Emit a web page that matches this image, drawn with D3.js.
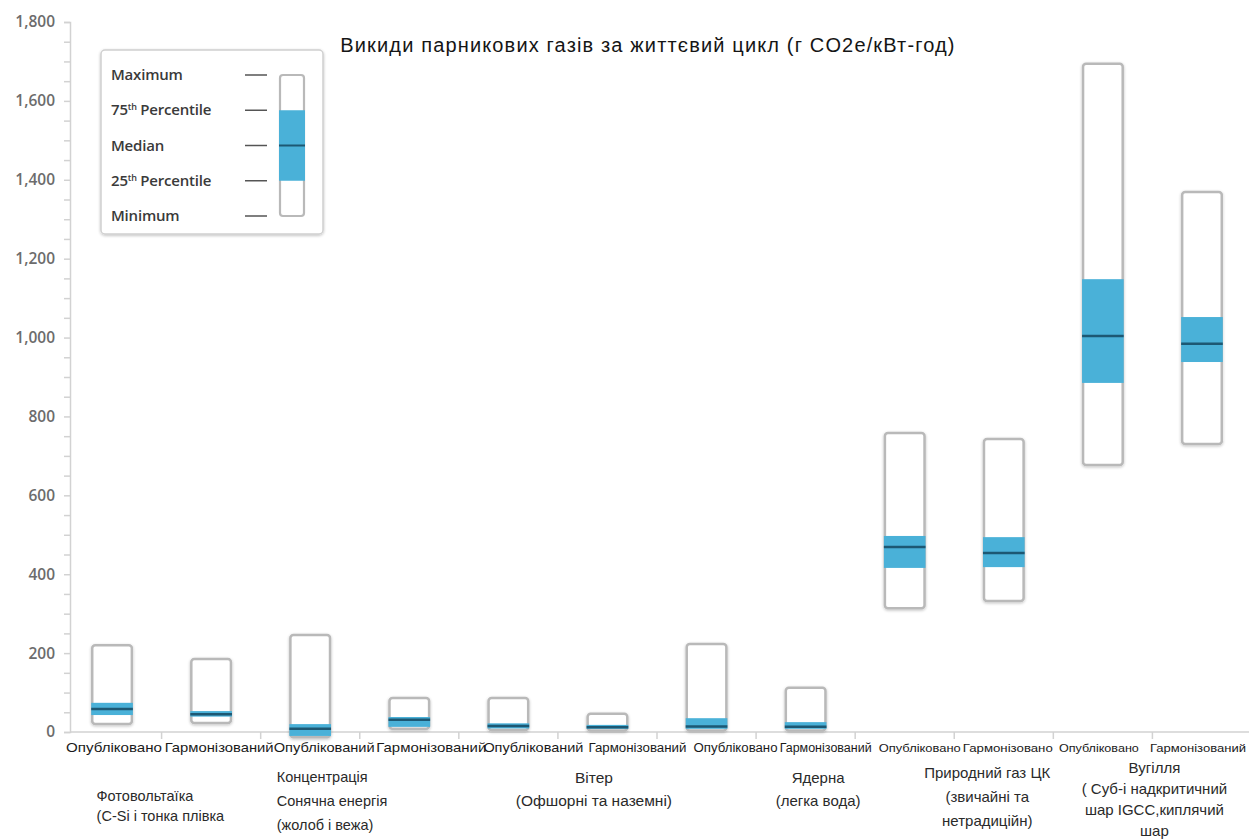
<!DOCTYPE html>
<html>
<head>
<meta charset="utf-8">
<script src="https://cdn.jsdelivr.net/npm/d3@7"></script>
<style>
  html, body { margin: 0; padding: 0; background: #fff; }
  svg { display: block; }
</style>
</head>
<body>
<svg id="chart" width="1249" height="839"></svg>
<script>
// Life-cycle greenhouse gas emissions by technology (g CO2e/kWh)
const categories = ["Опубліковано", "Гармонізований", "Опублікований", "Гармонізований",
  "Опублікований", "Гармонізований", "Опубліковано", "Гармонізований",
  "Опубліковано", "Гармонізовано", "Опубліковано", "Гармонізований"];

const maxVals    = [220, 185, 246,  86,  86,  46, 223, 112, 758, 743, 1694, 1369];
const q3Vals     = [ 74,  53,  20,  38,  22,  18,  35,  25, 497, 494, 1148, 1052];
const medianVals = [ 58,  45,   8,  31,  15,  12,  14,  13, 469, 454, 1004,  984];
const q1Vals     = [ 43,  39, -10,  13,   9,   8,   8,   8, 416, 418,  885,  938];
const minVals    = [ 20,  23, -13,   8,   5,   4,   4,   4, 314, 332,  677,  730];

const groupLines = [
  ["Фотовольтаїка", "(C-Si і тонка плівка"],
  ["Концентрація", "Сонячна енергія", "(жолоб і вежа)"],
  ["Вітер", "(Офшорні та наземні)"],
  ["Ядерна", "(легка вода)"],
  ["Природний газ ЦК", "(звичайні та", "нетрадиційн)"],
  ["Вугілля", "( Суб-і надкритичний", "шар IGCC,киплячий", "шар"]
];

const yTicks = [0, 200, 400, 600, 800, 1000, 1200, 1400, 1600, 1800];
const legendLabels = ["Maximum", "75th Percentile", "Median", "25th Percentile", "Minimum"];

const titleText = "Викиди парникових газів за життєвий цикл (г CO2e/кВт-год)";

// ---- layout ----
const svg = d3.select("#chart");
const W = 1249, H = 839;
const axisX = 70;
const BLUE = "#4ab1d8", MED = "#1d5873", OUTLINE = "#b9b9b9";

const rows = categories.map((c, i) => ({
  key: i, label: c,
  max: maxVals[i], q3: q3Vals[i], med: medianVals[i], q1: q1Vals[i], min: minVals[i]
}));

const y = d3.scaleLinear().domain([0, 1800]).range([732, 22]);
const x = d3.scaleBand().domain(rows.map(d => d.key))
  .range([62.5, 1251.5]).paddingInner(0.6).paddingOuter(0.3);

// soft shadow around the boxes
const defs = svg.append("defs");
const f = defs.append("filter").attr("id", "soft").attr("x", "-30%").attr("y", "-30%")
  .attr("width", "160%").attr("height", "160%");
f.append("feGaussianBlur").attr("in", "SourceAlpha").attr("stdDeviation", 1.6).attr("result", "b");
f.append("feOffset").attr("in", "b").attr("dx", 0).attr("dy", 0.5).attr("result", "o");
f.append("feComponentTransfer").attr("in", "o").attr("result", "s")
  .append("feFuncA").attr("type", "linear").attr("slope", 0.25);
const fm = f.append("feMerge");
fm.append("feMergeNode").attr("in", "s");
fm.append("feMergeNode").attr("in", "SourceGraphic");

// title
svg.append("text")
  .attr("x", 648).attr("y", 52)
  .attr("text-anchor", "middle")
  .attr("font-family", "Liberation Sans, Arial, sans-serif")
  .attr("font-size", 20).attr("letter-spacing", 1.15).attr("fill", "#151515")
  .text(titleText);

// y axis with minor ticks every 50
const yAxis = d3.axisLeft(y)
  .tickValues(d3.range(0, 1801, 50))
  .tickSize(6).tickPadding(9)
  .tickFormat(v => yTicks.includes(v) ? d3.format(",")(v) : "");
const gy = svg.append("g").attr("transform", `translate(${axisX},0)`).call(yAxis);
gy.select(".domain").attr("stroke", "#d2d2d2").attr("stroke-width", 1.5);
gy.selectAll(".tick line").attr("stroke", "#d2d2d2").attr("stroke-width", 1.5);
gy.selectAll(".tick text")
  .attr("font-family", "Open Sans, sans-serif").attr("font-weight", 600)
  .attr("font-size", 15.5).attr("fill", "#6c6c6c");

// baseline with separators between the boxes
const stepW = x.step();
const sepXs = rows.slice(1).map(d => x(d.key) - (stepW - x.bandwidth()) / 2);
svg.append("line")
  .attr("x1", axisX).attr("x2", W).attr("y1", y(0)).attr("y2", y(0))
  .attr("stroke", "#d2d2d2").attr("stroke-width", 1.5);
svg.selectAll("line.sep").data(sepXs).join("line").attr("class", "sep")
  .attr("x1", d => d).attr("x2", d => d)
  .attr("y1", y(0)).attr("y2", y(0) + 7)
  .attr("stroke", "#d2d2d2").attr("stroke-width", 1.5);

// boxes
const gBox = svg.append("g");
const box = gBox.selectAll("g.box").data(rows).join("g").attr("class", "box");
box.append("rect")
  .attr("x", d => x(d.key)).attr("width", x.bandwidth())
  .attr("y", d => y(d.max)).attr("height", d => y(d.min) - y(d.max))
  .attr("rx", 3).attr("fill", "#fff")
  .attr("stroke", OUTLINE).attr("stroke-width", 2.5)
  .attr("filter", "url(#soft)");
box.append("rect")
  .attr("x", d => x(d.key) - 1).attr("width", x.bandwidth() + 2)
  .attr("y", d => y(d.q3)).attr("height", d => y(d.q1) - y(d.q3))
  .attr("fill", BLUE);
box.append("line")
  .attr("x1", d => x(d.key) - 1).attr("x2", d => x(d.key) + x.bandwidth() + 1)
  .attr("y1", d => y(d.med)).attr("y2", d => y(d.med))
  .attr("stroke", MED).attr("stroke-width", 2.5);

// category labels under each box
const labelDx    = [2, 8, 14, 22, 25, 30, 29, 20, 15, 4, -4, -4];
const labelSize  = [13.5, 13.5, 13.5, 13.5, 13.5, 12.5, 12.5, 12.5, 11.5, 11.5, 11.5, 11.5];
const labelWidth = [96, 109, 101, 110, 100, 98, 84, 92, 82, 90, 80, 96];
svg.selectAll("text.cat").data(rows).join("text").attr("class", "cat")
  .attr("x", d => x(d.key) + x.bandwidth() / 2 + labelDx[d.key])
  .attr("y", 752)
  .attr("text-anchor", "middle")
  .attr("font-family", "Liberation Sans, Arial, sans-serif")
  .attr("font-size", d => labelSize[d.key])
  .attr("textLength", d => labelWidth[d.key])
  .attr("lengthAdjust", "spacingAndGlyphs")
  .attr("fill", "#1a1a1a")
  .text(d => d.label);

// technology group labels (one per pair of boxes)
const groupLayout = [
  { dx: -65, anchor: "start",  y0: 801, lh: 20, fs: 14.5 },
  { dx: -83, anchor: "start",  y0: 782, lh: 24, fs: 14.5 },
  { dx: 36,  anchor: "middle", y0: 783, lh: 23, fs: 15.5 },
  { dx: 62,  anchor: "middle", y0: 783, lh: 23, fs: 15 },
  { dx: 33,  anchor: "middle", y0: 778, lh: 24, fs: 15 },
  { dx: 2,   anchor: "middle", y0: 773, lh: 21, fs: 15 }
];
groupLines.forEach((lines, gi) => {
  const a = rows[gi * 2], b = rows[gi * 2 + 1];
  const cx = (x(a.key) + x(b.key) + x.bandwidth()) / 2;
  const L = groupLayout[gi];
  svg.append("g").selectAll("text").data(lines).join("text")
    .attr("x", cx + L.dx)
    .attr("y", (d, i) => L.y0 + i * L.lh)
    .attr("text-anchor", L.anchor)
    .attr("font-family", "Liberation Sans, Arial, sans-serif")
    .attr("font-size", L.fs).attr("fill", "#2a2a2a")
    .text(d => d);
});

// legend
const lg = svg.append("g");
lg.append("rect")
  .attr("x", 101).attr("y", 50).attr("width", 222).attr("height", 184)
  .attr("rx", 4).attr("fill", "#fff")
  .attr("stroke", "#d0d0d0").attr("stroke-width", 1.5)
  .attr("filter", "url(#soft)");
const ly = d3.scalePoint().domain(legendLabels).range([75, 216]);
legendLabels.forEach(lbl => {
  const t = lg.append("text")
    .attr("x", 111).attr("y", ly(lbl) + 5)
    .attr("font-family", "Open Sans, sans-serif").attr("font-weight", 600)
    .attr("font-size", 15).attr("fill", "#3a3a3a")
    .attr("letter-spacing", -0.2);
  const m = lbl.match(/^(\d+)th (.*)$/);
  if (m) {
    t.append("tspan").text(m[1]);
    t.append("tspan").attr("font-size", 9).attr("dy", -5).text("th");
    t.append("tspan").attr("dy", 5).text(" " + m[2]);
  } else {
    t.text(lbl);
  }
  lg.append("line")
    .attr("x1", 245).attr("x2", 267)
    .attr("y1", ly(lbl)).attr("y2", ly(lbl))
    .attr("stroke", "#555").attr("stroke-width", 1.5);
});
lg.append("rect")
  .attr("x", 280).attr("width", 24)
  .attr("y", ly("Maximum")).attr("height", ly("Minimum") - ly("Maximum"))
  .attr("rx", 3).attr("fill", "#fff").attr("stroke", OUTLINE).attr("stroke-width", 2.2);
lg.append("rect")
  .attr("x", 279).attr("width", 26)
  .attr("y", ly("75th Percentile")).attr("height", ly("25th Percentile") - ly("75th Percentile"))
  .attr("fill", BLUE);
lg.append("line")
  .attr("x1", 279).attr("x2", 305)
  .attr("y1", ly("Median")).attr("y2", ly("Median"))
  .attr("stroke", MED).attr("stroke-width", 2);
</script>
</body>
</html>
